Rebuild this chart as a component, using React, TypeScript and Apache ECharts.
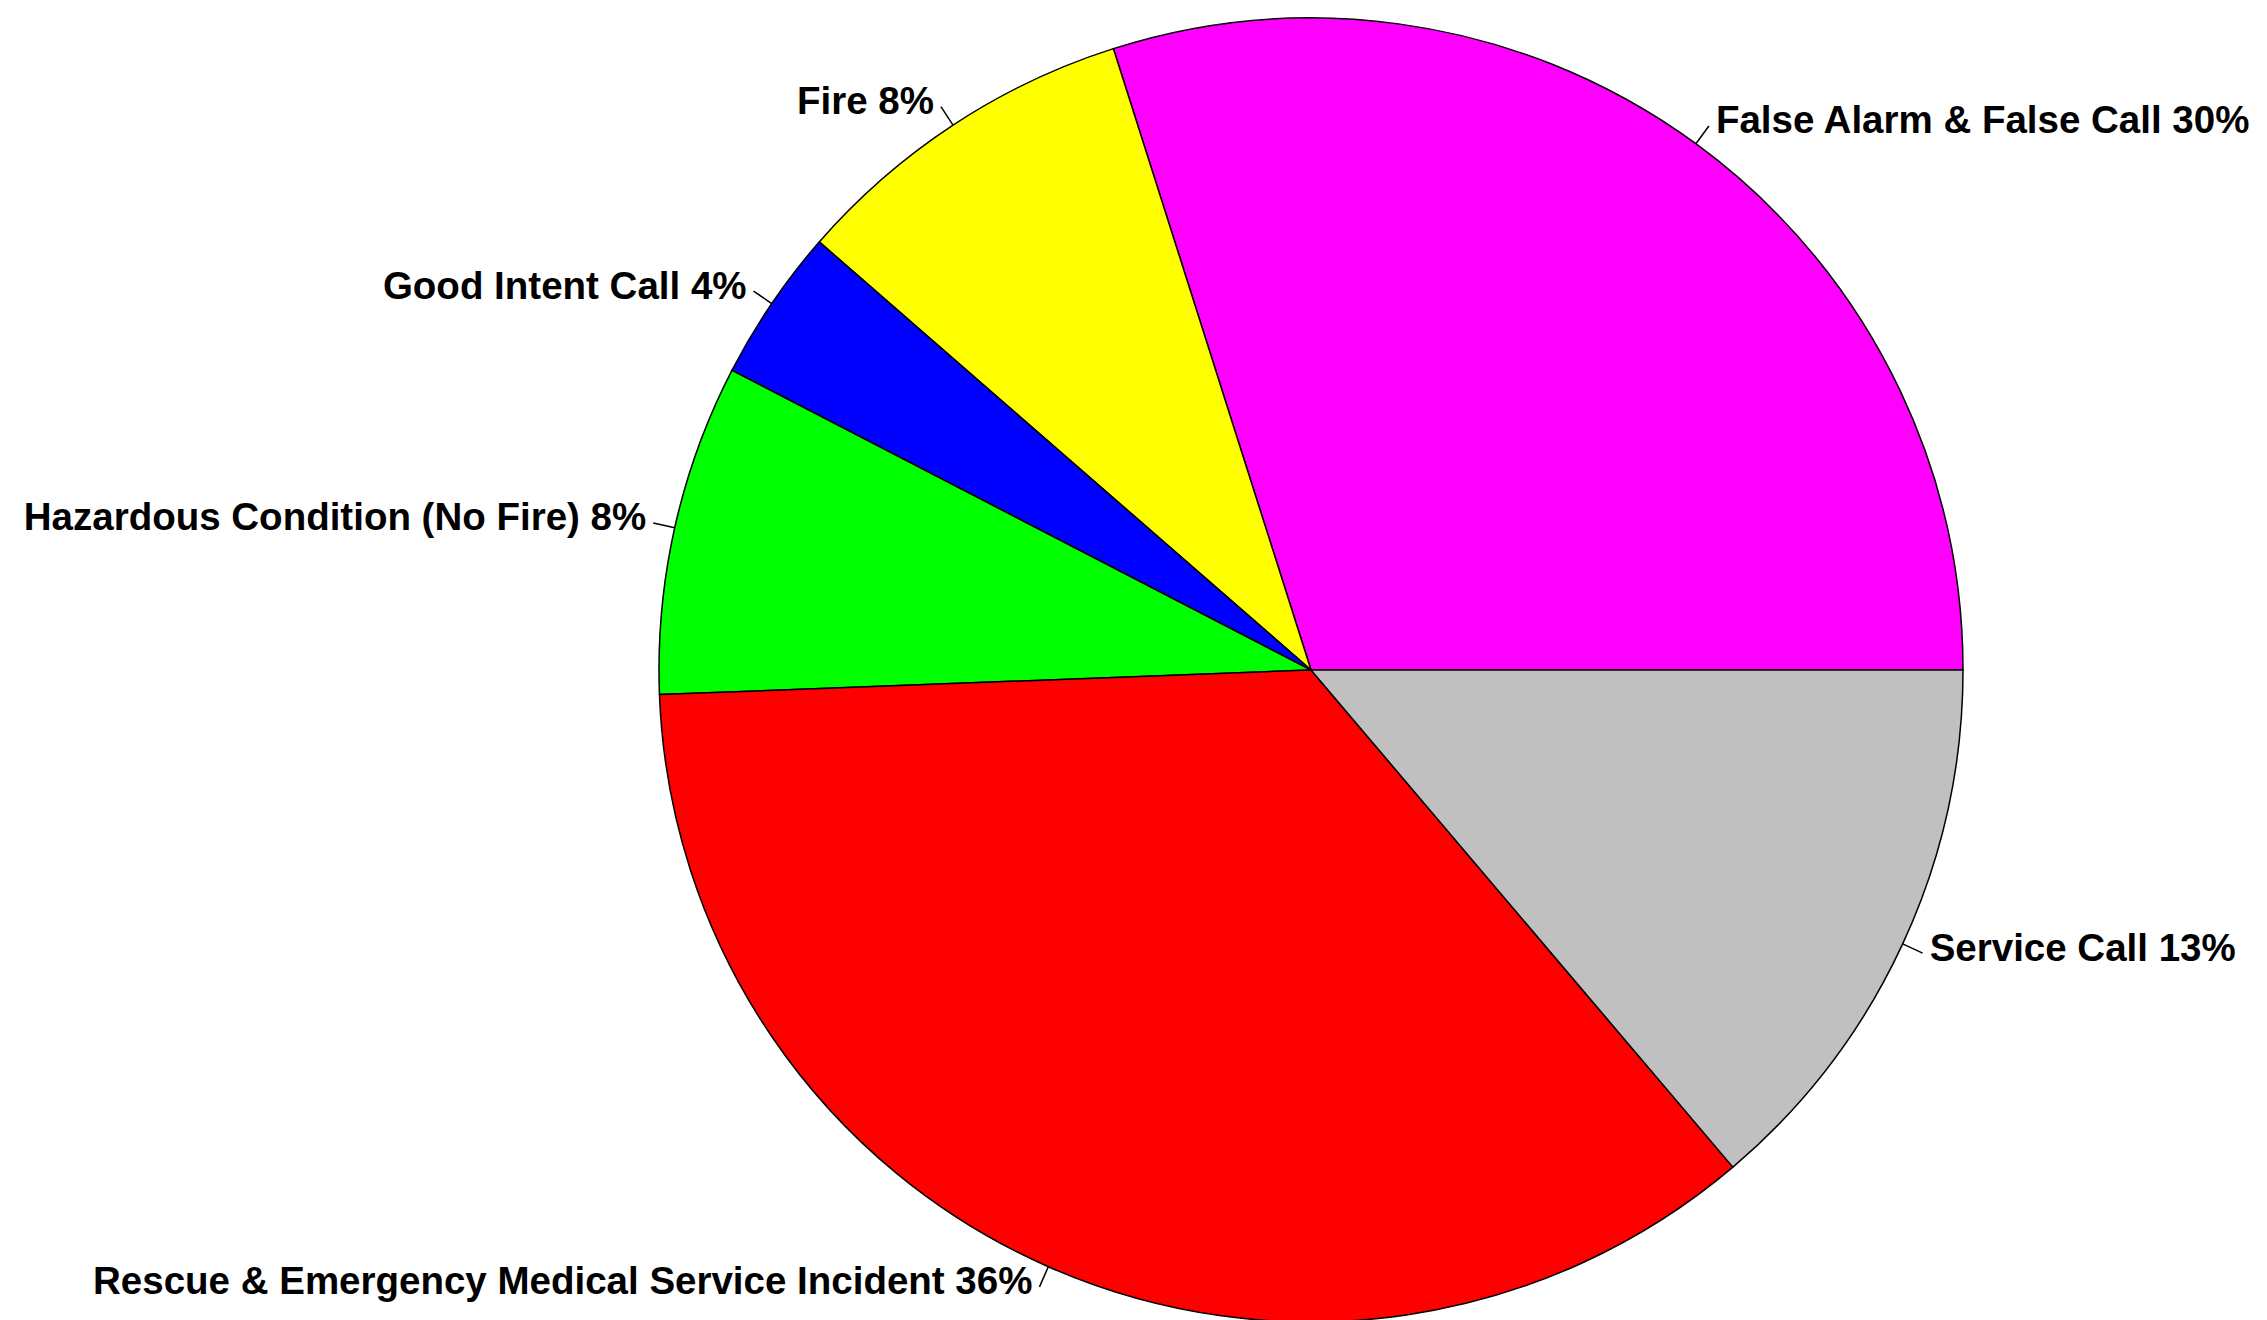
import React, { useEffect, useRef } from "react";
import * as echarts from "echarts";

const categories = [
  "False Alarm & False Call",
  "Fire",
  "Good Intent Call",
  "Hazardous Condition (No Fire)",
  "Rescue & Emergency Medical Service Incident",
  "Service Call",
];
const values = [29.9, 8.7, 3.8, 8.2, 35.6, 13.8];
const shownPercents = [30, 8, 4, 8, 36, 13];
const colors = ["#FF00FF", "#FFFF00", "#0000FF", "#00FF00", "#FF0000", "#C0C0C0"];

export default function App() {
  const ref = useRef<HTMLDivElement>(null);
  useEffect(() => {
    const chart = echarts.init(ref.current!, null, { renderer: "svg" });
    const font = {
      fontFamily: "'Liberation Sans', Arial, sans-serif",
      fontWeight: "bold" as const,
      fontSize: 38.5,
      color: "#000000",
    };
    chart.setOption({
      animation: false,
      backgroundColor: "#ffffff",
      series: [
        {
          type: "pie",
          center: [1311, 670],
          radius: 652,
          startAngle: 0,
          clockwise: false,
          avoidLabelOverlap: false,
          minShowLabelAngle: 0,
          data: categories.map((name, i) => ({
            name,
            value: values[i],
            itemStyle: { color: colors[i] },
          })),
          itemStyle: { borderColor: "#000000", borderWidth: 1.5 },
          label: {
            show: true,
            position: "outside",
            formatter: (p: any) => `{t|${p.name} ${shownPercents[p.dataIndex]}%}`,
            ...font,
            rich: { t: { ...font, padding: [0, 0, 12, 0] } },
            distanceToLabelLine: 7,
            width: 1100,
            overflow: "none",
          },
          labelLine: {
            show: true,
            length: 22,
            length2: 0,
            smooth: false,
            lineStyle: { color: "#000000", width: 1.5 },
          },
          emphasis: { disabled: true },
        },
      ],
    });
    return () => chart.dispose();
  }, []);
  return (
    <div
      ref={ref}
      style={{ position: "fixed", left: 0, top: 0, width: 2267, height: 1320 }}
    />
  );
}
